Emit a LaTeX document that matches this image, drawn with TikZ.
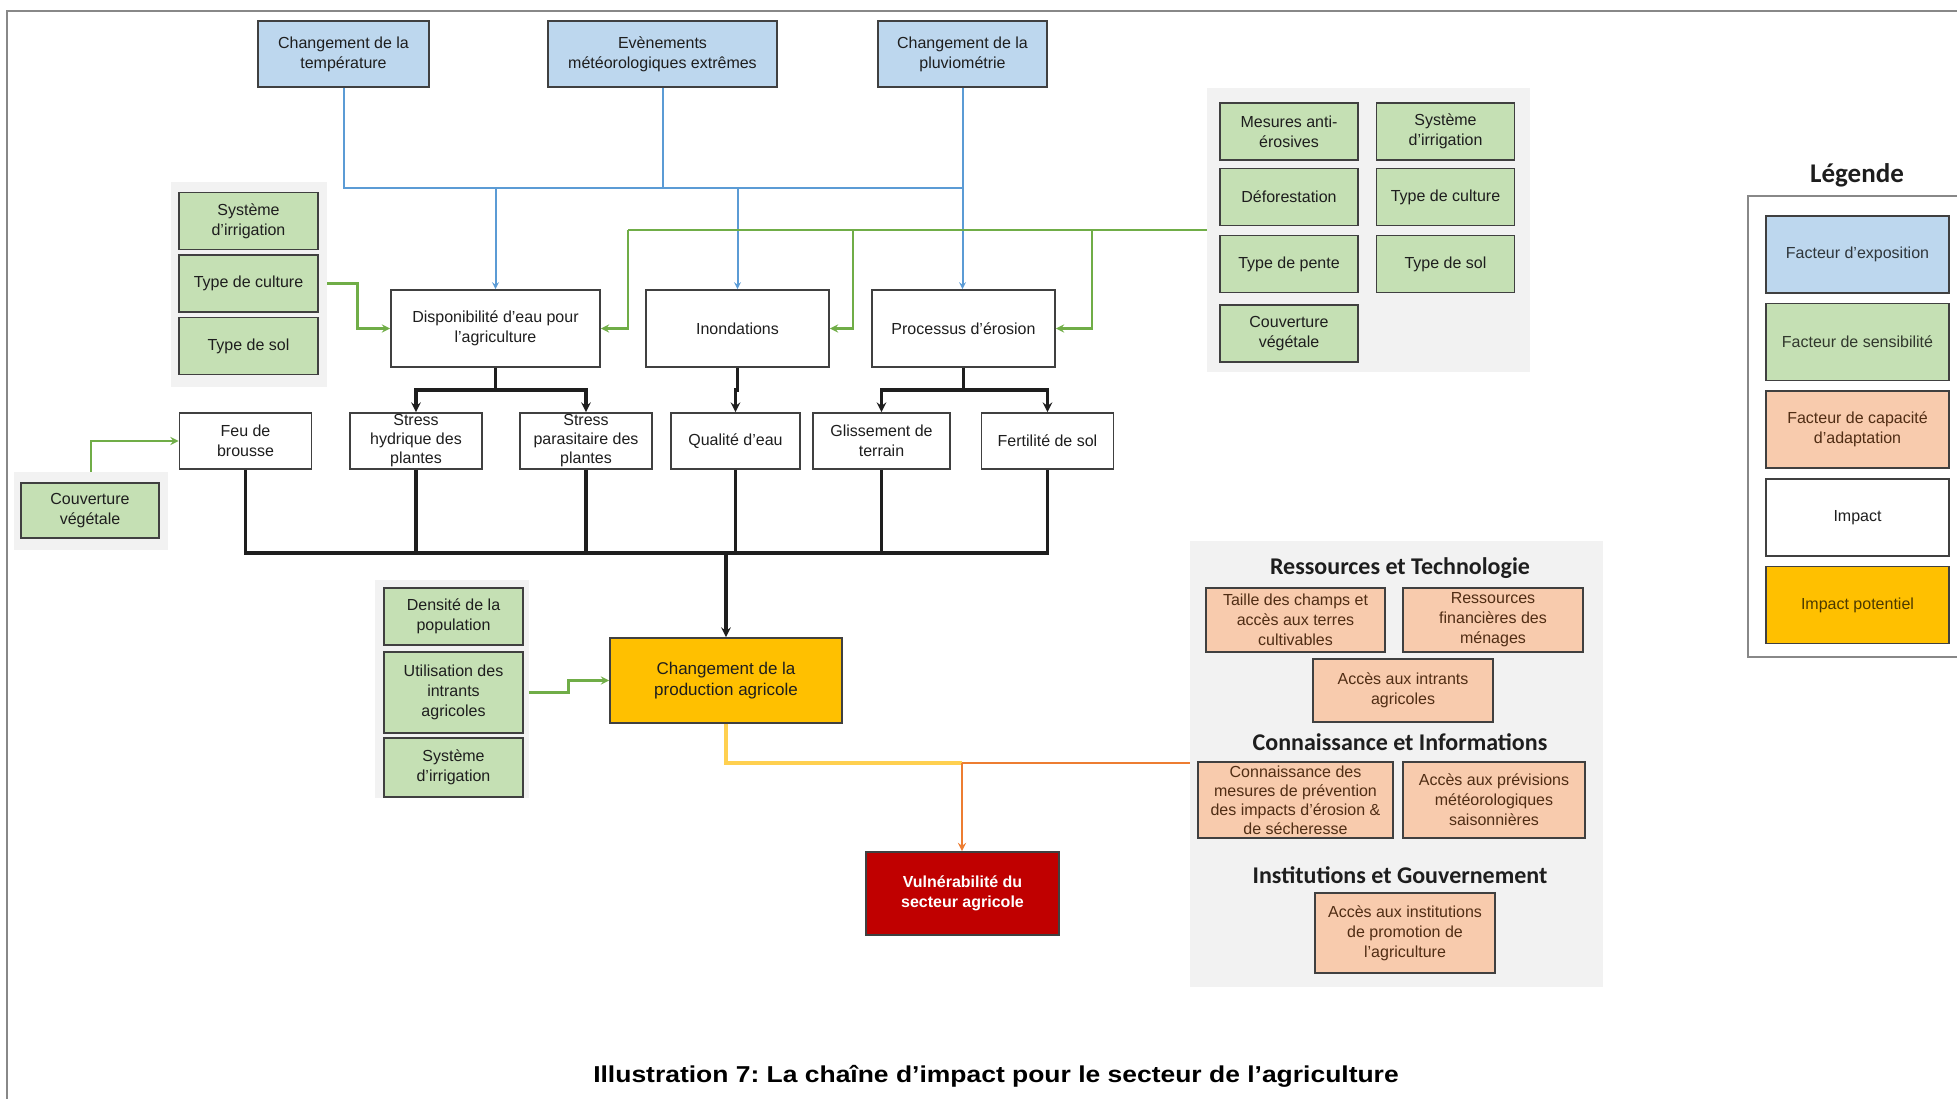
\documentclass[tikz,border=0pt]{standalone}
\usepackage{fontspec}
\setmainfont{Liberation Sans}
\newfontfamily\headfont{Carlito}
\newfontfamily\captionfont[FakeStretch=1.15]{Liberation Sans}
\usetikzlibrary{positioning}
\frenchspacing

\definecolor{expofill}{RGB}{189,215,238}
\definecolor{sensfill}{RGB}{197,224,180}
\definecolor{adaptfill}{RGB}{248,203,173}
\definecolor{potfill}{RGB}{255,192,0}
\definecolor{vulnfill}{RGB}{192,0,0}
\definecolor{groupgray}{RGB}{242,242,242}
\definecolor{edgegray}{RGB}{64,64,64}
\definecolor{framegray}{RGB}{136,136,136}
\definecolor{textgray}{RGB}{30,30,30}
\definecolor{adapttext}{RGB}{80,45,20}
\definecolor{lineblue}{RGB}{91,155,213}
\definecolor{linegreen}{RGB}{112,173,71}
\definecolor{lineyellow}{RGB}{255,208,80}
\definecolor{lineorange}{RGB}{237,125,49}

\begin{document}
\begin{tikzpicture}[x=1pt, y=-1pt, >=stealth, node distance=150pt,
    block/.style={rectangle, draw=edgegray, line width=1.8pt, align=center, text=textgray, inner sep=1pt, font=\fontsize{16}{20}\selectfont},
    expo/.style={block, fill=expofill, minimum height=66pt},
    sens/.style={block, fill=sensfill, minimum width=138pt, minimum height=57pt},
    adapt/.style={block, fill=adaptfill, text=adapttext, minimum width=180pt},
    impact/.style={block, fill=white, minimum width=183pt, minimum height=77pt},
    subimpact/.style={block, fill=white, minimum width=132pt, minimum height=56pt},
    legendbox/.style={block, minimum width=183pt, minimum height=77pt},
    group/.style={rectangle, fill=groupgray},
    heading/.style={text=textgray, font=\headfont\bfseries\fontsize{24}{27}\selectfont},
    blueline/.style={draw=lineblue, line width=2pt},
    greenline/.style={draw=linegreen, line width=2.6pt},
    blackline/.style={draw=textgray, line width=3.2pt},
    yellowline/.style={draw=lineyellow, line width=3.5pt},
    orangeline/.style={draw=lineorange, line width=2.6pt}]

    \useasboundingbox (0,0) rectangle (1957,1098);
    \draw[framegray, line width=2pt] (7,1110) |- (1970,11);

    % grey panels behind the factor groups
    \node[group, minimum width=156pt, minimum height=205pt] (lgrp) at (249,284.5) {};
    \node[group, minimum width=323pt, minimum height=284pt] (rgrp) at (1368.5,230) {};
    \node[group, minimum width=154pt, minimum height=78pt] (cgrp) at (91,511) {};
    \node[group, minimum width=154pt, minimum height=218pt] (pgrp) at (452,689) {};
    \node[group, minimum width=413pt, minimum height=446pt] (agrp) at (1396.5,764) {};

    % exposure
    \node[expo, minimum width=171pt] (temp) at (343.5,54) {Changement de la\\température};
    \node[expo, right of=temp, node distance=319pt, minimum width=229pt] (meteo) {Evènements\\météorologiques extrêmes};
    \node[expo, right of=meteo, node distance=300pt, minimum width=169pt] (pluie) {Changement de la\\pluviométrie};

    % sensitivity
    \node[sens, minimum width=139pt] (lsys) at (248.5,221) {Système\\d'irrigation};
    \node[sens, below of=lsys, node distance=62.5pt, minimum width=139pt] (lcult) {Type de culture};
    \node[sens, below of=lcult, node distance=62.5pt, minimum width=139pt] (lsol) {Type de sol};

    \node[sens] (rmes) at (1289,131.5) {Mesures anti-\\érosives};
    \node[sens, right of=rmes, node distance=156.5pt] (rsys) {Système\\d'irrigation};
    \node[sens, below of=rmes, node distance=65.5pt] (rdef) {Déforestation};
    \node[sens, right of=rdef, node distance=156.5pt] (rcult) {Type de culture};
    \node[sens, below of=rdef, node distance=67pt] (rpente) {Type de pente};
    \node[sens, right of=rpente, node distance=156.5pt] (rsol) {Type de sol};
    \node[sens, below of=rpente, node distance=69.5pt] (rcouv) {Couverture\\végétale};

    \node[sens, minimum height=55pt] (ccouv) at (90,510.5) {Couverture\\végétale};

    \node[sens, minimum width=139pt] (pdens) at (453.5,616.5) {Densité de la\\population};
    \node[sens, below of=pdens, node distance=76pt, minimum width=139pt, minimum height=81pt] (puti) {Utilisation des\\intrants\\agricoles};
    \node[sens, below of=puti, node distance=75pt, minimum width=139pt, minimum height=59pt] (psys) {Système\\d'irrigation};

    % impacts
    \node[impact, minimum width=209pt] (dispo) at (495.5,328.5) {Disponibilité d'eau pour\\l'agriculture};
    \node[impact, right of=dispo, node distance=242pt] (inond) {Inondations};
    \node[impact, right of=inond, node distance=226pt] (erosion) {Processus d'érosion};

    \node[subimpact] (feu) at (245.5,441) {Feu de\\brousse};
    \node[subimpact, right of=feu, node distance=170.5pt, font=\fontsize{16}{19}\selectfont] (hydr) {Stress\\hydrique des\\plantes};
    \node[subimpact, right of=hydr, node distance=170pt, font=\fontsize{16}{19}\selectfont] (para) {Stress\\parasitaire des\\plantes};
    \node[subimpact, right of=para, node distance=149.5pt, minimum width=129pt] (qual) {Qualité d'eau};
    \node[subimpact, right of=qual, node distance=146pt, minimum width=137pt] (gliss) {Glissement de\\terrain};
    \node[subimpact, right of=gliss, node distance=166pt] (fert) {Fertilité de sol};

    \node[block, fill=potfill, minimum width=232pt, minimum height=85pt, font=\fontsize{17}{21}\selectfont] (prod) at (726,680.5) {Changement de la\\production agricole};
    \node[block, fill=vulnfill, text=white, minimum width=193pt, minimum height=83pt, font=\bfseries\fontsize{16}{20}\selectfont] (vuln) at (962.5,893.5) {Vulnérabilité du\\secteur agricole};

    % adaptive capacity
    \node[heading] (hres) at (1400,568) {Ressources et Technologie};
    \node[adapt, minimum width=179pt, minimum height=64pt] (taille) at (1295.5,620) {Taille des champs et\\accès aux terres\\cultivables};
    \node[adapt, right of=taille, node distance=197.5pt, minimum height=64pt] (fin) {Ressources\\financières des\\ménages};
    \node[adapt, minimum height=63pt] (intr) at (1403,690.5) {Accès aux intrants\\agricoles};
    \node[heading] (hcon) at (1400,742) {Connaissance et Informations};
    \node[adapt, minimum width=195pt, minimum height=76pt, font=\fontsize{16}{19}\selectfont] (conn) at (1295.5,800) {Connaissance des\\mesures de prévention\\des impacts d'érosion \&\\de sécheresse};
    \node[adapt, right of=conn, node distance=198.5pt, minimum width=182pt, minimum height=76pt] (prev) {Accès aux prévisions\\météorologiques\\saisonnières};
    \node[heading] (hins) at (1400,875) {Institutions et Gouvernement};
    \node[adapt, minimum height=80pt] (inst) at (1405,933) {Accès aux institutions\\de promotion de\\l'agriculture};

    % legend
    \node[text=textgray, font=\headfont\bfseries\fontsize{27}{30}\selectfont] (legtitle) at (1857,175) {Légende};
    \draw[framegray, line width=2pt] (1748,196) rectangle (1975,657);
    \node[legendbox, fill=expofill, text=expofill!25!black] (lexpo) at (1857.5,254.5) {Facteur d'exposition};
    \node[legendbox, below of=lexpo, node distance=87.5pt, fill=sensfill, text=sensfill!25!black] (lsens) {Facteur de sensibilité};
    \node[legendbox, below of=lsens, node distance=87.5pt, fill=adaptfill, text=adapttext] (ladapt) {Facteur de capacité\\d'adaptation};
    \node[legendbox, below of=ladapt, node distance=88pt, fill=white] (limp) {Impact};
    \node[legendbox, below of=limp, node distance=87.5pt, fill=potfill, text=potfill!30!black] (lpot) {Impact potentiel};

    \node[text=black, font=\captionfont\bfseries\fontsize{23}{26}\selectfont] (caption) at (996,1076) {Illustration 7: La chaîne d’impact pour le secteur de l’agriculture};

    % exposure links
    \coordinate (bbus) at (0,188);
    \path [blueline] (temp.south) |- (pluie.south |- bbus);
    \path [blueline] (meteo.south) -- (meteo.south |- bbus);
    \path [blueline, ->] (pluie.south) -- (pluie.south |- erosion.north);
    \path [blueline, ->] (dispo.north |- bbus) -- (dispo.north);
    \path [blueline, ->] (inond.north |- bbus) -- (inond.north);

    % sensitivity links
    \coordinate (gdispo) at (628,230);
    \coordinate (ginond) at (853,230);
    \coordinate (geros) at (1092,230);
    \path [greenline] (rgrp.west) -- (gdispo);
    \path [greenline, ->] (gdispo) |- (dispo.east);
    \path [greenline, ->] (ginond) |- (inond.east);
    \path [greenline, ->] (geros) |- (erosion.east);
    \path [greenline, ->] (lcult.east -| lgrp.east) -- ++(30,0) |- (dispo.west);
    \path [greenline, ->] (cgrp.north) |- (feu.west);
    \path [greenline, ->] (puti.east -| pgrp.east) -- ++(39,0) |- (prod.west);

    % impact chain
    \path [blackline, ->] (dispo.south) -- ++(0,22) -| (hydr.north);
    \path [blackline, ->] (dispo.south) -- ++(0,22) -| (para.north);
    \path [blackline, ->] (inond.south) -- ++(0,22) -| (qual.north);
    \path [blackline, ->] (erosion.south) -- ++(0,22) -| (gliss.north);
    \path [blackline, ->] (erosion.south) -- ++(0,22) -| (fert.north);

    \coordinate (ibus) at (726,553);
    \path [blackline] (feu.south) |- (ibus) -| (fert.south);
    \foreach \n in {hydr,para,qual,gliss}
        \path [blackline] (\n.south) -- (\n.south |- ibus);
    \path [blackline, ->] (ibus) -- (prod.north);

    % towards vulnerability
    \coordinate (vjoin) at (962,763);
    \path [yellowline] (prod.south) |- (vjoin);
    \path [orangeline] (agrp.west |- vjoin) -- (vjoin);
    \path [orangeline, ->] (vjoin) -- (vjoin |- vuln.north);
\end{tikzpicture}
\end{document}
